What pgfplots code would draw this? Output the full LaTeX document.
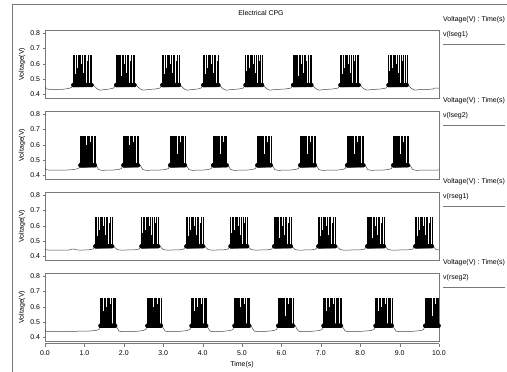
\documentclass[border=0pt]{standalone}
\usepackage{fontspec}
\setmainfont{Liberation Sans}
\usepackage{pgfplots}
\pgfplotsset{compat=1.18}
\definecolor{axgray}{RGB}{120,120,120}
\definecolor{basegray}{RGB}{70,70,70}
\pgfplotsset{
  panel/.style={
    scale only axis, width=394bp, height=68bp, anchor=north west,
    xmin=0, xmax=10, ymin=0.375, ymax=0.82,
    ytick={0.4,0.5,0.6,0.7,0.8}, xtick=\empty, ytick pos=left,
    /pgf/number format/assume math mode=true,
    yticklabel style={/pgf/number format/.cd, fixed, fixed zerofill, precision=1},
    axis line style={axgray}, tick style={axgray}, tick align=outside,
    major tick length=2.5bp,
    ylabel={Voltage(V)},
    ylabel style={at={(axis description cs:-0.0584,0.5)}, anchor=center},
  },
  spk/.style={only marks, mark=none, forget plot,
    error bars/.cd, y dir=plus, y explicit, error mark=none,
    error bar style={draw=black, line width=0.38bp}},
  bl/.style={basegray, line width=0.5bp, mark=none},
}
\begin{document}
\fontsize{7}{8.4}\selectfont
\begin{tikzpicture}
\path[use as bounding box] (0,0) rectangle (507bp,-372bp);
\draw[axgray, line width=0.6bp] (12bp,-372bp) -- (12bp,-4bp) -- (507bp,-4bp);
\node at (261bp,-13bp) {Electrical CPG};
\foreach \t/\n in {30/lseg1, 111/lseg2, 192/rseg1, 273/rseg2}{
  \node[anchor=west, inner sep=0pt] at (443bp,-\t bp+10bp) {Voltage(V) : Time(s)};
  \node[anchor=west, inner sep=0pt] at (443bp,-\t bp-5bp) {v(\n)};
  \draw[axgray, line width=0.6bp] (443bp,-\t bp-14bp) -- (505bp,-\t bp-14bp);
}
% ---------------- panel 1: v(lseg1)
\begin{axis}[panel, at={(45bp,-30bp)}]
\addplot[bl] table[row sep=\\] {t v\\
0 .45\\ .02 .436\\ .1 .432\\ .45 .432\\ .6 .437\\ .68 .445\\ .71 .46\\ 1.22 .462\\ 1.26 .45\\ 1.32 .435\\ 1.4 .426\\ 1.5 .43\\ 1.62 .433\\ 1.74 .44\\
1.80 .46\\ 2.31 .462\\ 2.35 .45\\ 2.41 .435\\ 2.49 .426\\ 2.6 .43\\ 2.8 .434\\ 2.92 .44\\ 2.97 .46\\ 3.43 .462\\ 3.47 .45\\ 3.53 .435\\ 3.61 .426\\ 3.72 .43\\ 3.88 .434\\ 3.96 .44\\
4.01 .46\\ 4.42 .462\\ 4.46 .45\\ 4.52 .435\\ 4.6 .426\\ 4.72 .43\\ 4.92 .434\\ 5.03 .44\\ 5.08 .46\\ 5.53 .462\\ 5.57 .45\\ 5.63 .435\\ 5.71 .426\\ 5.82 .43\\ 6.1 .434\\ 6.24 .44\\
6.29 .46\\ 6.78 .462\\ 6.82 .45\\ 6.88 .435\\ 6.96 .426\\ 7.07 .43\\ 7.3 .434\\ 7.44 .44\\ 7.49 .46\\ 7.99 .462\\ 8.03 .45\\ 8.09 .435\\ 8.17 .426\\ 8.28 .43\\ 8.52 .434\\ 8.66 .44\\
8.71 .46\\ 9.21 .462\\ 9.25 .45\\ 9.31 .435\\ 9.39 .426\\ 9.5 .43\\ 9.85 .433\\ 9.88 .44\\ 10 .44\\
};
\addplot[spk] table[x=t, y=b, y error=e, row sep=\\] {t b e\\
.72 .46 .195\\ .73 .46 .09\\ .75 .46 .195\\ .76 .46 .07\\ .78 .46 .195\\ .79 .46 .195\\ .81 .46 .11\\ .83 .46 .195\\ .85 .46 .06\\ .87 .46 .195\\ .89 .46 .195\\ .92 .46 .14\\ .94 .46 .195\\ .97 .46 .08\\ 1.00 .46 .195\\ 1.03 .46 .195\\ 1.06 .46 .16\\ 1.10 .46 .195\\ 1.14 .46 .195\\ 1.18 .46 .195\\
1.81 .46 .195\\ 1.82 .46 .09\\ 1.84 .46 .195\\ 1.85 .46 .07\\ 1.87 .46 .195\\ 1.88 .46 .195\\ 1.90 .46 .11\\ 1.92 .46 .195\\ 1.94 .46 .06\\ 1.96 .46 .195\\ 1.98 .46 .195\\ 2.01 .46 .14\\ 2.03 .46 .195\\ 2.06 .46 .08\\ 2.09 .46 .195\\ 2.12 .46 .195\\ 2.15 .46 .16\\ 2.19 .46 .195\\ 2.23 .46 .195\\ 2.27 .46 .195\\
2.98 .46 .195\\ 2.99 .46 .09\\ 3.01 .46 .195\\ 3.02 .46 .07\\ 3.04 .46 .195\\ 3.05 .46 .195\\ 3.07 .46 .11\\ 3.09 .46 .195\\ 3.11 .46 .06\\ 3.13 .46 .195\\ 3.15 .46 .195\\ 3.18 .46 .14\\ 3.20 .46 .195\\ 3.23 .46 .08\\ 3.26 .46 .195\\ 3.29 .46 .195\\ 3.32 .46 .16\\ 3.36 .46 .195\\ 3.40 .46 .195\\
4.02 .46 .195\\ 4.03 .46 .09\\ 4.05 .46 .195\\ 4.06 .46 .07\\ 4.08 .46 .195\\ 4.09 .46 .195\\ 4.11 .46 .11\\ 4.13 .46 .195\\ 4.15 .46 .06\\ 4.17 .46 .195\\ 4.19 .46 .195\\ 4.22 .46 .14\\ 4.24 .46 .195\\ 4.27 .46 .08\\ 4.30 .46 .195\\ 4.33 .46 .195\\ 4.36 .46 .16\\ 4.40 .46 .195\\
5.09 .46 .195\\ 5.10 .46 .09\\ 5.12 .46 .195\\ 5.13 .46 .07\\ 5.15 .46 .195\\ 5.16 .46 .195\\ 5.18 .46 .11\\ 5.20 .46 .195\\ 5.22 .46 .06\\ 5.24 .46 .195\\ 5.26 .46 .195\\ 5.29 .46 .14\\ 5.31 .46 .195\\ 5.34 .46 .08\\ 5.37 .46 .195\\ 5.40 .46 .195\\ 5.43 .46 .16\\ 5.47 .46 .195\\ 5.51 .46 .195\\
6.30 .46 .195\\ 6.31 .46 .09\\ 6.33 .46 .195\\ 6.34 .46 .07\\ 6.36 .46 .195\\ 6.37 .46 .195\\ 6.39 .46 .11\\ 6.41 .46 .195\\ 6.43 .46 .06\\ 6.45 .46 .195\\ 6.47 .46 .195\\ 6.50 .46 .14\\ 6.52 .46 .195\\ 6.55 .46 .08\\ 6.58 .46 .195\\ 6.61 .46 .195\\ 6.64 .46 .16\\ 6.68 .46 .195\\ 6.72 .46 .195\\ 6.76 .46 .195\\
7.50 .46 .195\\ 7.51 .46 .09\\ 7.53 .46 .195\\ 7.54 .46 .07\\ 7.56 .46 .195\\ 7.57 .46 .195\\ 7.59 .46 .11\\ 7.61 .46 .195\\ 7.63 .46 .06\\ 7.65 .46 .195\\ 7.67 .46 .195\\ 7.70 .46 .14\\ 7.72 .46 .195\\ 7.75 .46 .08\\ 7.78 .46 .195\\ 7.81 .46 .195\\ 7.84 .46 .16\\ 7.88 .46 .195\\ 7.92 .46 .195\\ 7.96 .46 .195\\
8.72 .46 .195\\ 8.73 .46 .09\\ 8.75 .46 .195\\ 8.76 .46 .07\\ 8.78 .46 .195\\ 8.79 .46 .195\\ 8.81 .46 .11\\ 8.83 .46 .195\\ 8.85 .46 .06\\ 8.87 .46 .195\\ 8.89 .46 .195\\ 8.92 .46 .14\\ 8.94 .46 .195\\ 8.97 .46 .08\\ 9.00 .46 .195\\ 9.03 .46 .195\\ 9.06 .46 .16\\ 9.10 .46 .195\\ 9.14 .46 .195\\ 9.18 .46 .195\\
};
\end{axis}
% ---------------- panel 2: v(lseg2)
\begin{axis}[panel, at={(45bp,-111bp)}]
\addplot[bl] table[row sep=\\] {t v\\
0 .45\\ .02 .437\\ .1 .433\\ .5 .433\\ .7 .436\\ .82 .442\\ .87 .448\\ .89 .465\\ 1.29 .468\\ 1.32 .455\\ 1.36 .437\\ 1.44 .432\\ 1.7 .433\\ 1.86 .437\\ 1.94 .443\\
1.98 .465\\ 2.41 .468\\ 2.44 .455\\ 2.48 .437\\ 2.56 .432\\ 2.9 .433\\ 3.05 .437\\ 3.13 .443\\ 3.17 .465\\ 3.58 .468\\ 3.61 .455\\ 3.65 .437\\ 3.73 .432\\ 4.0 .433\\ 4.14 .437\\ 4.22 .443\\
4.26 .465\\ 4.64 .468\\ 4.67 .455\\ 4.71 .437\\ 4.79 .432\\ 5.1 .433\\ 5.26 .437\\ 5.34 .443\\ 5.38 .465\\ 5.76 .468\\ 5.79 .455\\ 5.83 .437\\ 5.91 .432\\ 6.2 .433\\ 6.35 .437\\ 6.43 .443\\
6.47 .465\\ 6.88 .468\\ 6.91 .455\\ 6.95 .437\\ 7.03 .432\\ 7.4 .433\\ 7.54 .437\\ 7.62 .443\\ 7.66 .465\\ 8.12 .468\\ 8.15 .455\\ 8.19 .437\\ 8.27 .432\\ 8.55 .433\\ 8.71 .437\\ 8.79 .443\\
8.83 .465\\ 9.26 .468\\ 9.29 .455\\ 9.33 .437\\ 9.41 .432\\ 10 .434\\
};
\addplot[spk] table[x=t, y=b, y error=e, row sep=\\] {t b e\\
.90 .465 .19\\ .91 .465 .085\\ .92 .465 .19\\ .94 .465 .065\\ .95 .465 .19\\ .96 .465 .105\\ .98 .465 .19\\ .99 .465 .19\\ 1.01 .465 .055\\ 1.02 .465 .19\\ 1.04 .465 .135\\ 1.06 .465 .19\\ 1.08 .465 .075\\ 1.10 .465 .19\\ 1.12 .465 .19\\ 1.15 .465 .155\\ 1.18 .465 .19\\ 1.21 .465 .19\\ 1.24 .465 .19\\ 1.27 .465 .19\\
1.99 .465 .19\\ 2.00 .465 .085\\ 2.01 .465 .19\\ 2.03 .465 .065\\ 2.04 .465 .19\\ 2.05 .465 .105\\ 2.07 .465 .19\\ 2.08 .465 .19\\ 2.10 .465 .055\\ 2.11 .465 .19\\ 2.13 .465 .135\\ 2.15 .465 .19\\ 2.17 .465 .075\\ 2.19 .465 .19\\ 2.21 .465 .19\\ 2.24 .465 .155\\ 2.27 .465 .19\\ 2.30 .465 .19\\ 2.33 .465 .19\\ 2.36 .465 .19\\
3.18 .465 .19\\ 3.19 .465 .085\\ 3.20 .465 .19\\ 3.22 .465 .065\\ 3.23 .465 .19\\ 3.24 .465 .105\\ 3.26 .465 .19\\ 3.27 .465 .19\\ 3.29 .465 .055\\ 3.30 .465 .19\\ 3.32 .465 .135\\ 3.34 .465 .19\\ 3.36 .465 .075\\ 3.38 .465 .19\\ 3.40 .465 .19\\ 3.43 .465 .155\\ 3.46 .465 .19\\ 3.49 .465 .19\\ 3.52 .465 .19\\ 3.55 .465 .19\\
4.27 .465 .19\\ 4.28 .465 .085\\ 4.29 .465 .19\\ 4.31 .465 .065\\ 4.32 .465 .19\\ 4.33 .465 .105\\ 4.35 .465 .19\\ 4.36 .465 .19\\ 4.38 .465 .055\\ 4.39 .465 .19\\ 4.41 .465 .135\\ 4.43 .465 .19\\ 4.45 .465 .075\\ 4.47 .465 .19\\ 4.49 .465 .19\\ 4.52 .465 .155\\ 4.55 .465 .19\\ 4.58 .465 .19\\ 4.61 .465 .19\\
5.39 .465 .19\\ 5.40 .465 .085\\ 5.41 .465 .19\\ 5.43 .465 .065\\ 5.44 .465 .19\\ 5.45 .465 .105\\ 5.47 .465 .19\\ 5.48 .465 .19\\ 5.50 .465 .055\\ 5.51 .465 .19\\ 5.53 .465 .135\\ 5.55 .465 .19\\ 5.57 .465 .075\\ 5.59 .465 .19\\ 5.61 .465 .19\\ 5.64 .465 .155\\ 5.67 .465 .19\\ 5.70 .465 .19\\ 5.73 .465 .19\\
6.48 .465 .19\\ 6.49 .465 .085\\ 6.50 .465 .19\\ 6.52 .465 .065\\ 6.53 .465 .19\\ 6.54 .465 .105\\ 6.56 .465 .19\\ 6.57 .465 .19\\ 6.59 .465 .055\\ 6.60 .465 .19\\ 6.62 .465 .135\\ 6.64 .465 .19\\ 6.66 .465 .075\\ 6.68 .465 .19\\ 6.70 .465 .19\\ 6.73 .465 .155\\ 6.76 .465 .19\\ 6.79 .465 .19\\ 6.82 .465 .19\\ 6.85 .465 .19\\
7.67 .465 .19\\ 7.68 .465 .085\\ 7.69 .465 .19\\ 7.71 .465 .065\\ 7.72 .465 .19\\ 7.73 .465 .105\\ 7.75 .465 .19\\ 7.76 .465 .19\\ 7.78 .465 .055\\ 7.79 .465 .19\\ 7.81 .465 .135\\ 7.83 .465 .19\\ 7.85 .465 .075\\ 7.87 .465 .19\\ 7.89 .465 .19\\ 7.92 .465 .155\\ 7.95 .465 .19\\ 7.98 .465 .19\\ 8.01 .465 .19\\ 8.04 .465 .19\\ 8.08 .465 .19\\
8.84 .465 .19\\ 8.85 .465 .085\\ 8.86 .465 .19\\ 8.88 .465 .065\\ 8.89 .465 .19\\ 8.90 .465 .105\\ 8.92 .465 .19\\ 8.93 .465 .19\\ 8.95 .465 .055\\ 8.96 .465 .19\\ 8.98 .465 .135\\ 9.00 .465 .19\\ 9.02 .465 .075\\ 9.04 .465 .19\\ 9.06 .465 .19\\ 9.09 .465 .155\\ 9.12 .465 .19\\ 9.15 .465 .19\\ 9.18 .465 .19\\ 9.21 .465 .19\\
};
\end{axis}
% ---------------- panel 3: v(rseg1)
\begin{axis}[panel, at={(45bp,-192bp)}]
\addplot[bl] table[row sep=\\] {t v\\
0 .45\\ .02 .442\\ .1 .44\\ .6 .44\\ .68 .446\\ .74 .447\\ .8 .441\\ .9 .44\\ 1.1 .441\\ 1.22 .447\\ 1.27 .465\\ 1.75 .467\\ 1.78 .455\\ 1.83 .443\\ 1.92 .44\\ 2.25 .441\\ 2.38 .446\\
2.44 .465\\ 2.92 .467\\ 2.95 .455\\ 3.0 .443\\ 3.09 .44\\ 3.4 .441\\ 3.52 .446\\ 3.58 .465\\ 4.06 .467\\ 4.09 .455\\ 4.14 .443\\ 4.23 .44\\ 4.52 .441\\ 4.64 .446\\
4.70 .465\\ 5.15 .467\\ 5.18 .455\\ 5.23 .443\\ 5.32 .44\\ 5.62 .441\\ 5.75 .446\\ 5.81 .465\\ 6.27 .467\\ 6.30 .455\\ 6.35 .443\\ 6.44 .44\\ 6.75 .441\\ 6.87 .446\\
6.93 .465\\ 7.41 .467\\ 7.44 .455\\ 7.49 .443\\ 7.58 .44\\ 7.98 .441\\ 8.11 .446\\ 8.17 .465\\ 8.63 .467\\ 8.66 .455\\ 8.71 .443\\ 8.80 .44\\ 9.2 .441\\ 9.33 .446\\
9.39 .465\\ 9.85 .467\\ 9.88 .455\\ 9.93 .443\\ 10 .441\\
};
\addplot[spk] table[x=t, y=b, y error=e, row sep=\\] {t b e\\
1.28 .465 .19\\ 1.29 .465 .085\\ 1.31 .465 .19\\ 1.32 .465 .065\\ 1.34 .465 .19\\ 1.35 .465 .19\\ 1.37 .465 .105\\ 1.39 .465 .19\\ 1.41 .465 .055\\ 1.43 .465 .19\\ 1.45 .465 .19\\ 1.48 .465 .135\\ 1.50 .465 .19\\ 1.53 .465 .075\\ 1.56 .465 .19\\ 1.59 .465 .19\\ 1.62 .465 .155\\ 1.66 .465 .19\\ 1.70 .465 .19\\
2.45 .465 .19\\ 2.46 .465 .085\\ 2.48 .465 .19\\ 2.49 .465 .065\\ 2.51 .465 .19\\ 2.52 .465 .19\\ 2.54 .465 .105\\ 2.56 .465 .19\\ 2.58 .465 .055\\ 2.60 .465 .19\\ 2.62 .465 .19\\ 2.65 .465 .135\\ 2.67 .465 .19\\ 2.70 .465 .075\\ 2.73 .465 .19\\ 2.76 .465 .19\\ 2.79 .465 .155\\ 2.83 .465 .19\\ 2.87 .465 .19\\
3.59 .465 .19\\ 3.60 .465 .085\\ 3.62 .465 .19\\ 3.63 .465 .065\\ 3.65 .465 .19\\ 3.66 .465 .19\\ 3.68 .465 .105\\ 3.70 .465 .19\\ 3.72 .465 .055\\ 3.74 .465 .19\\ 3.76 .465 .19\\ 3.79 .465 .135\\ 3.81 .465 .19\\ 3.84 .465 .075\\ 3.87 .465 .19\\ 3.90 .465 .19\\ 3.93 .465 .155\\ 3.97 .465 .19\\ 4.01 .465 .19\\
4.71 .465 .19\\ 4.72 .465 .085\\ 4.74 .465 .19\\ 4.75 .465 .065\\ 4.77 .465 .19\\ 4.78 .465 .19\\ 4.80 .465 .105\\ 4.82 .465 .19\\ 4.84 .465 .055\\ 4.86 .465 .19\\ 4.88 .465 .19\\ 4.91 .465 .135\\ 4.93 .465 .19\\ 4.96 .465 .075\\ 4.99 .465 .19\\ 5.02 .465 .19\\ 5.05 .465 .155\\ 5.09 .465 .19\\ 5.13 .465 .19\\
5.82 .465 .19\\ 5.83 .465 .085\\ 5.85 .465 .19\\ 5.86 .465 .065\\ 5.88 .465 .19\\ 5.89 .465 .19\\ 5.91 .465 .105\\ 5.93 .465 .19\\ 5.95 .465 .055\\ 5.97 .465 .19\\ 5.99 .465 .19\\ 6.02 .465 .135\\ 6.04 .465 .19\\ 6.07 .465 .075\\ 6.10 .465 .19\\ 6.13 .465 .19\\ 6.16 .465 .155\\ 6.20 .465 .19\\ 6.24 .465 .19\\
6.94 .465 .19\\ 6.95 .465 .085\\ 6.97 .465 .19\\ 6.98 .465 .065\\ 7.00 .465 .19\\ 7.01 .465 .19\\ 7.03 .465 .105\\ 7.05 .465 .19\\ 7.07 .465 .055\\ 7.09 .465 .19\\ 7.11 .465 .19\\ 7.14 .465 .135\\ 7.16 .465 .19\\ 7.19 .465 .075\\ 7.22 .465 .19\\ 7.25 .465 .19\\ 7.28 .465 .155\\ 7.32 .465 .19\\ 7.36 .465 .19\\
8.18 .465 .19\\ 8.19 .465 .085\\ 8.21 .465 .19\\ 8.22 .465 .065\\ 8.24 .465 .19\\ 8.25 .465 .19\\ 8.27 .465 .105\\ 8.29 .465 .19\\ 8.31 .465 .055\\ 8.33 .465 .19\\ 8.35 .465 .19\\ 8.38 .465 .135\\ 8.40 .465 .19\\ 8.43 .465 .075\\ 8.46 .465 .19\\ 8.49 .465 .19\\ 8.52 .465 .155\\ 8.56 .465 .19\\ 8.60 .465 .19\\
9.40 .465 .19\\ 9.41 .465 .085\\ 9.43 .465 .19\\ 9.44 .465 .065\\ 9.46 .465 .19\\ 9.47 .465 .19\\ 9.49 .465 .105\\ 9.51 .465 .19\\ 9.53 .465 .055\\ 9.55 .465 .19\\ 9.57 .465 .19\\ 9.60 .465 .135\\ 9.62 .465 .19\\ 9.65 .465 .075\\ 9.68 .465 .19\\ 9.71 .465 .19\\ 9.74 .465 .155\\ 9.78 .465 .19\\ 9.82 .465 .19\\
};
\end{axis}
% ---------------- panel 4: v(rseg2)
\begin{axis}[panel, at={(45bp,-273bp)}]
\addplot[bl] table[row sep=\\] {t v\\
0 .455\\ .02 .44\\ .1 .436\\ .6 .436\\ .62 .438\\ 1.1 .44\\ 1.3 .444\\ 1.37 .45\\ 1.40 .475\\ 1.80 .477\\ 1.83 .46\\ 1.88 .44\\ 1.95 .436\\ 2.3 .438\\ 2.48 .443\\ 2.56 .45\\
2.59 .475\\ 2.97 .477\\ 3.0 .46\\ 3.05 .44\\ 3.12 .436\\ 3.4 .438\\ 3.6 .443\\ 3.68 .45\\ 3.71 .475\\ 4.11 .477\\ 4.14 .46\\ 4.19 .44\\ 4.26 .436\\ 4.5 .438\\ 4.69 .443\\ 4.77 .45\\
4.80 .475\\ 5.23 .477\\ 5.26 .46\\ 5.31 .44\\ 5.38 .436\\ 5.6 .438\\ 5.8 .443\\ 5.88 .45\\ 5.91 .475\\ 6.35 .477\\ 6.38 .46\\ 6.43 .44\\ 6.50 .436\\ 6.75 .438\\ 6.95 .443\\ 7.03 .45\\
7.06 .475\\ 7.54 .477\\ 7.57 .46\\ 7.62 .44\\ 7.69 .436\\ 8.0 .438\\ 8.27 .443\\ 8.35 .45\\ 8.38 .475\\ 8.83 .477\\ 8.86 .46\\ 8.91 .44\\ 8.98 .436\\ 9.3 .438\\ 9.53 .443\\ 9.61 .45\\
9.64 .475\\ 10 .477\\
};
\addplot[spk] table[x=t, y=b, y error=e, row sep=\\] {t b e\\
1.41 .475 .18\\ 1.42 .475 .075\\ 1.43 .475 .18\\ 1.45 .475 .055\\ 1.46 .475 .18\\ 1.47 .475 .095\\ 1.49 .475 .18\\ 1.50 .475 .18\\ 1.52 .475 .045\\ 1.53 .475 .18\\ 1.55 .475 .125\\ 1.57 .475 .18\\ 1.59 .475 .065\\ 1.61 .475 .18\\ 1.63 .475 .18\\ 1.66 .475 .145\\ 1.69 .475 .18\\ 1.72 .475 .18\\ 1.75 .475 .18\\ 1.78 .475 .18\\
2.60 .475 .18\\ 2.61 .475 .075\\ 2.62 .475 .18\\ 2.64 .475 .055\\ 2.65 .475 .18\\ 2.66 .475 .095\\ 2.68 .475 .18\\ 2.69 .475 .18\\ 2.71 .475 .045\\ 2.72 .475 .18\\ 2.74 .475 .125\\ 2.76 .475 .18\\ 2.78 .475 .065\\ 2.80 .475 .18\\ 2.82 .475 .18\\ 2.85 .475 .145\\ 2.88 .475 .18\\ 2.91 .475 .18\\ 2.94 .475 .18\\
3.72 .475 .18\\ 3.73 .475 .075\\ 3.74 .475 .18\\ 3.76 .475 .055\\ 3.77 .475 .18\\ 3.78 .475 .095\\ 3.80 .475 .18\\ 3.81 .475 .18\\ 3.83 .475 .045\\ 3.84 .475 .18\\ 3.86 .475 .125\\ 3.88 .475 .18\\ 3.90 .475 .065\\ 3.92 .475 .18\\ 3.94 .475 .18\\ 3.97 .475 .145\\ 4.00 .475 .18\\ 4.03 .475 .18\\ 4.06 .475 .18\\ 4.09 .475 .18\\
4.81 .475 .18\\ 4.82 .475 .075\\ 4.83 .475 .18\\ 4.85 .475 .055\\ 4.86 .475 .18\\ 4.87 .475 .095\\ 4.89 .475 .18\\ 4.90 .475 .18\\ 4.92 .475 .045\\ 4.93 .475 .18\\ 4.95 .475 .125\\ 4.97 .475 .18\\ 4.99 .475 .065\\ 5.01 .475 .18\\ 5.03 .475 .18\\ 5.06 .475 .145\\ 5.09 .475 .18\\ 5.12 .475 .18\\ 5.15 .475 .18\\ 5.18 .475 .18\\
5.92 .475 .18\\ 5.93 .475 .075\\ 5.94 .475 .18\\ 5.96 .475 .055\\ 5.97 .475 .18\\ 5.98 .475 .095\\ 6.00 .475 .18\\ 6.01 .475 .18\\ 6.03 .475 .045\\ 6.04 .475 .18\\ 6.06 .475 .125\\ 6.08 .475 .18\\ 6.10 .475 .065\\ 6.12 .475 .18\\ 6.14 .475 .18\\ 6.17 .475 .145\\ 6.20 .475 .18\\ 6.23 .475 .18\\ 6.26 .475 .18\\ 6.29 .475 .18\\
7.07 .475 .18\\ 7.08 .475 .075\\ 7.09 .475 .18\\ 7.11 .475 .055\\ 7.12 .475 .18\\ 7.13 .475 .095\\ 7.15 .475 .18\\ 7.16 .475 .18\\ 7.18 .475 .045\\ 7.19 .475 .18\\ 7.21 .475 .125\\ 7.23 .475 .18\\ 7.25 .475 .065\\ 7.27 .475 .18\\ 7.29 .475 .18\\ 7.32 .475 .145\\ 7.35 .475 .18\\ 7.38 .475 .18\\ 7.41 .475 .18\\ 7.44 .475 .18\\ 7.48 .475 .18\\ 7.51 .475 .18\\
8.39 .475 .18\\ 8.40 .475 .075\\ 8.41 .475 .18\\ 8.43 .475 .055\\ 8.44 .475 .18\\ 8.45 .475 .095\\ 8.47 .475 .18\\ 8.48 .475 .18\\ 8.50 .475 .045\\ 8.51 .475 .18\\ 8.53 .475 .125\\ 8.55 .475 .18\\ 8.57 .475 .065\\ 8.59 .475 .18\\ 8.61 .475 .18\\ 8.64 .475 .145\\ 8.67 .475 .18\\ 8.70 .475 .18\\ 8.73 .475 .18\\ 8.76 .475 .18\\ 8.80 .475 .18\\
9.65 .475 .18\\ 9.66 .475 .075\\ 9.67 .475 .18\\ 9.69 .475 .055\\ 9.70 .475 .18\\ 9.71 .475 .095\\ 9.73 .475 .18\\ 9.74 .475 .18\\ 9.76 .475 .045\\ 9.77 .475 .18\\ 9.79 .475 .125\\ 9.81 .475 .18\\ 9.83 .475 .065\\ 9.85 .475 .18\\ 9.87 .475 .18\\ 9.90 .475 .145\\ 9.93 .475 .18\\ 9.96 .475 .18\\ 9.99 .475 .18\\
};
\end{axis}
% ---------------- shared time axis below the last panel
\begin{axis}[scale only axis, width=394bp, height=68bp, anchor=north west, at={(45bp,-275.5bp)},
  xmin=0, xmax=10, ymin=0, ymax=1, axis y line=none, axis x line*=bottom,
  xtick={0,1,2,3,4,5,6,7,8,9,10},
  /pgf/number format/assume math mode=true,
  xticklabel style={yshift=-1.5bp, /pgf/number format/.cd, fixed, fixed zerofill, precision=1},
  axis line style={axgray, -}, tick style={axgray}, tick align=outside, major tick length=3bp,
  xlabel={Time(s)}, xlabel style={yshift=-1bp}]
\addplot[draw=none] coordinates {(0,0.5)};
\end{axis}
\end{tikzpicture}
\end{document}
